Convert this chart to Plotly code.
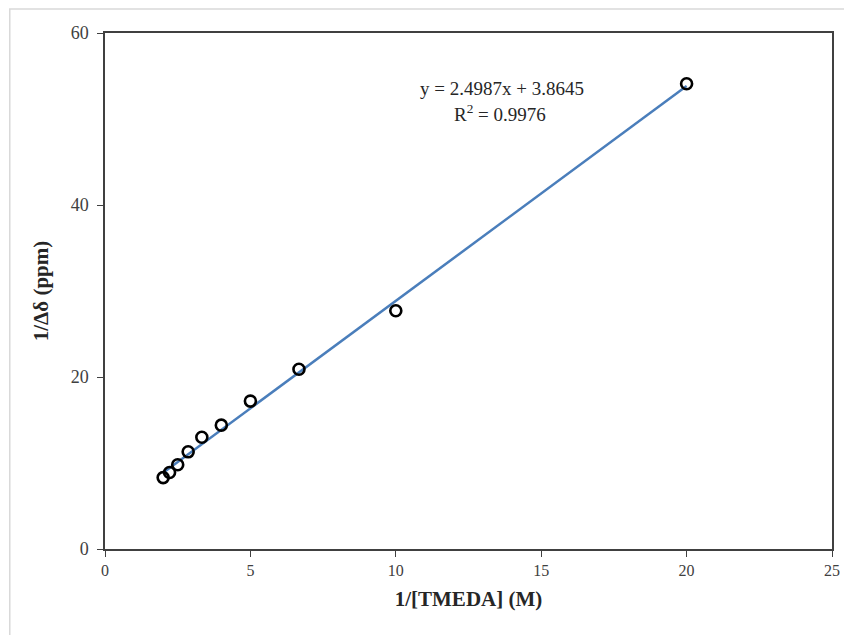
import plotly.graph_objects as go

x_vals = [2.0, 2.22, 2.5, 2.86, 3.33, 4.0, 5.0, 6.67, 10.0, 20.0]
y_vals = [8.3, 8.9, 9.8, 11.3, 13.0, 14.4, 17.2, 20.9, 27.7, 54.1]
slope = 2.4987
intercept = 3.8645
r2 = 0.9976
x_ticks = [0, 5, 10, 15, 20, 25]
y_ticks = [0, 20, 40, 60]

fit_x = [min(x_vals), max(x_vals)]
fit_y = [slope * v + intercept for v in fit_x]

font_family = "Liberation Serif, Times New Roman, serif"

fig = go.Figure()
fig.add_trace(go.Scatter(x=fit_x, y=fit_y, mode="lines",
                         line=dict(color="#4a7ebb", width=2.5), hoverinfo="skip"))
fig.add_trace(go.Scatter(x=x_vals, y=y_vals, mode="markers",
                         marker=dict(symbol="circle-open", size=11, color="black",
                                     line=dict(width=2.6, color="black"))))

fig.add_annotation(x=13.64, y=53.5, xref="x", yref="y", showarrow=False,
                   text=f"y = {slope}x + {intercept}",
                   font=dict(family=font_family, size=19, color="#262626"))
fig.add_annotation(x=13.57, y=50.7, xref="x", yref="y", showarrow=False,
                   text=f"R<sup>2</sup> = {r2}",
                   font=dict(family=font_family, size=19, color="#262626"))

fig.add_shape(type="rect", xref="paper", yref="paper",
              x0=-0.131, x1=1.05, y0=-0.25, y1=1.0465,
              line=dict(color="#d9d9d9", width=1.5), fillcolor="rgba(0,0,0,0)",
              layer="below")

axis_common = dict(showgrid=False, zeroline=False, showline=True, mirror=True,
                   linecolor="#404040", linewidth=1.5, ticks="outside",
                   ticklen=6, tickcolor="#404040", tickwidth=1.2)

fig.update_xaxes(range=[0, 25], tickvals=x_ticks,
                 tickfont=dict(family=font_family, size=16, color="#404040"),
                 title=dict(text="<b>1/[TMEDA] (M)</b>", standoff=13,
                            font=dict(family=font_family, size=21, color="#262626")),
                 **axis_common)
fig.update_yaxes(range=[0, 60], tickvals=y_ticks, ticklabelstandoff=5,
                 tickfont=dict(family=font_family, size=18, color="#404040"),
                 title=dict(text="<b>1/Δδ (ppm)</b>", standoff=16,
                            font=dict(family=font_family, size=21, color="#262626")),
                 **axis_common)

fig.update_layout(width=844, height=627, showlegend=False,
                  plot_bgcolor="white", paper_bgcolor="white",
                  margin=dict(l=97, r=14, t=25, b=86))

fig.write_html("out.html")
